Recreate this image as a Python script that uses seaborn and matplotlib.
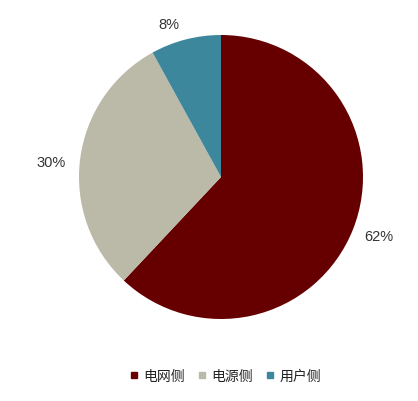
import numpy as np
import seaborn as sns
from matplotlib import pyplot as plt
from matplotlib.lines import Line2D

labels = ['电网侧', '电源侧', '用户侧']
shares = [62, 30, 8]
colors = ['#660000', '#BBBAA8', '#3D879C']
label_dist = [1.19, 1.2, 1.14]
label_turn = [1.0, 2.0, 4.4]   # degrees, label sits a little off the wedge middle

sns.set_theme(style='white')
plt.rcParams['font.family'] = ['Liberation Sans', 'Noto Sans CJK SC', 'DejaVu Sans']

fig = plt.figure(figsize=(4.18, 4.02), dpi=100)
ax = fig.add_axes([0, 0, 1, 1])

wedges, texts, autotexts = ax.pie(
    shares, colors=colors, startangle=90, counterclock=False,
    autopct='%d%%', pctdistance=1.17, radius=1.0,
    wedgeprops=dict(linewidth=0),
    textprops=dict(fontsize=10.5, color='#333333'))

# move each percentage label out along its wedge's mid angle
for w, t, d, turn in zip(wedges, autotexts, label_dist, label_turn):
    ang = np.deg2rad((w.theta1 + w.theta2) / 2 + turn)
    t.set_position((d * np.cos(ang), d * np.sin(ang)))

# pie centre at (221, 178) px, radius 142 px
ax.set_xlim(-221 / 142, (418 - 221) / 142)
ax.set_ylim(-(402 - 178) / 142, 178 / 142)
ax.set_aspect('auto')
ax.axis('off')

handles = [Line2D([0], [0], marker='s', linestyle='none', markersize=5,
                  markerfacecolor=c, markeredgecolor=c) for c in colors]
fig.legend(handles, labels, loc='center', bbox_to_anchor=(0.537, 0.062),
           ncol=3, frameon=False, fontsize=10, handlelength=0.8,
           handletextpad=0.3, columnspacing=0.8, labelcolor='#222222')

fig.savefig('out.png', dpi=100)
